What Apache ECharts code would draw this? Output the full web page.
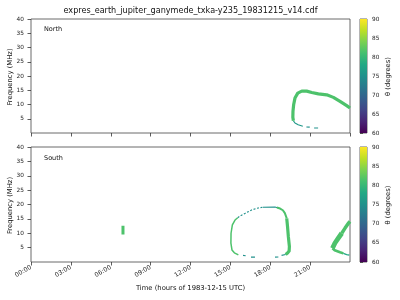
<!DOCTYPE html>
<html>
<head>
<meta charset="utf-8">
<script src="https://cdn.jsdelivr.net/npm/echarts@6/dist/echarts.min.js"></script>
<style>html,body{margin:0;padding:0;background:#fff;}#c{width:400px;height:300px;}</style>
</head>
<body>
<div id="c"></div>
<script>
// ---------- data ----------
const titleText = 'expres_earth_jupiter_ganymede_txka-y235_19831215_v14.cdf';
const xTickLabels = ['00:00','03:00','06:00','09:00','12:00','15:00','18:00','21:00'];
const yTickValues = [5,10,15,20,25,30,35,40];
const cbTickValues = [60,65,70,75,80,85,90];

// theta (degrees) of each feature
const greenTheta = 81.5;
const tealTheta = 76;

// North hemisphere (hour, MHz)
const northBand = [[19.74,4.3],[19.70,5.5],[19.71,7.6],[19.76,9.9],[19.86,12.25],[20.07,14.0],[20.37,14.7],[20.74,14.7],[21.12,14.2],[21.62,13.75],[22.25,13.4],[22.75,12.5],[23.25,11.1],[23.75,9.6],[24.0,8.75]];
const northTail = [[19.74,4.3],[19.86,3.5],[20.1,2.9],[20.45,2.35]];
const northTailDashes = [[[20.72,2.1],[20.97,2.05]],[[21.3,1.75],[21.6,1.75]]];

// South hemisphere (hour, MHz)
const southBlob = [[6.92,9.6],[6.92,12.6]];
const southLoopLeft = [[15.6,2.5],[15.3,3.2],[15.12,4.2],[15.04,6.6],[15.05,10.0],[15.15,12.9],[15.35,14.6],[15.55,15.4]];
const southLoopTopDashed = [[15.55,15.4],[15.73,16.0],[16.1,16.9],[16.6,18.1],[17.1,18.8],[17.45,19.05]];
const southLoopTopSolid = [[17.45,19.05],[18.36,19.1],[18.55,18.9]];
const southLoopRightUpper = [[18.5,18.95],[18.74,18.6],[18.95,18.0],[19.1,17.0],[19.24,15.2]];
const southLoopRightLower = [[19.24,15.2],[19.3,12.3],[19.36,8.9],[19.44,5.4],[19.42,3.8],[19.3,3.1],[19.16,2.6]];
const southLoopBottomDashes = [[[19.16,2.6],[18.85,2.3]],[[18.61,1.75],[18.36,1.7]],[[16.85,1.7],[16.55,1.7]],[[16.15,2.2],[15.95,2.3]]];
const southWedgeUpperLow = [[22.68,4.8],[22.87,6.6],[23.12,8.3],[23.38,10.0]];
const southWedgeUpperHigh = [[23.38,10.0],[23.63,11.8],[23.88,13.5],[24.0,14.1]];
const southWedgeLower = [[22.68,4.8],[22.85,4.1],[23.0,3.8],[23.25,3.4],[23.5,3.0]];
const southWedgeLowerEnd = [[23.5,3.0],[23.75,2.6],[23.95,2.35]];

// viridis colormap stops
const viridisStops = ['#440154','#482475','#414487','#355f8d','#2a788e','#21918c','#22a884','#44bf70','#7ad151','#bddf26','#fde725'];
const thetaMin = 60, thetaMax = 90;

// ---------- helpers ----------
function hexToRgb(h){return [parseInt(h.substr(1,2),16),parseInt(h.substr(3,2),16),parseInt(h.substr(5,2),16)];}
function viridis(theta){
  let t = (theta - thetaMin)/(thetaMax - thetaMin);
  t = Math.max(0, Math.min(1, t));
  const n = viridisStops.length - 1;
  const i = Math.min(n-1, Math.floor(t*n));
  const f = t*n - i;
  const a = hexToRgb(viridisStops[i]), b = hexToRgb(viridisStops[i+1]);
  const c = a.map((v,k)=>Math.round(v + (b[k]-v)*f));
  return 'rgb(' + c.join(',') + ')';
}
function seg(data, theta, width, idx, dashed){
  return {
    type:'line', xAxisIndex: idx, yAxisIndex: idx, data: data,
    symbol:'none', showSymbol:false, silent:true, animation:false, clip:true,
    lineStyle:{color: viridis(theta), width: width, type: dashed ? [2,1.6] : 'solid', cap:'butt', join:'round'}
  };
}

const font = 'DejaVu Sans';
const axisCol = '#333';

function mainX(idx, showLabels){
  return {
    type:'value', gridIndex: idx, min:0, max:24, interval:3,
    axisLine:{show:false},
    axisTick:{show:true, length:3.5, lineStyle:{color:axisCol, width:0.8}},
    splitLine:{show:false},
    axisLabel:{show: showLabels, rotate:30, fontSize:6.2, fontFamily:font, color:'#222', margin:5,
      showMaxLabel:false,
      formatter: v => xTickLabels[Math.round(v/3)] || ''}
  };
}
function mainY(idx){
  return {
    type:'value', gridIndex: idx, min:0, max:40, interval:5,
    axisLine:{show:false},
    axisTick:{show:true, length:3.5, lineStyle:{color:axisCol, width:0.8}},
    splitLine:{show:false},
    axisLabel:{fontSize:5.8, fontFamily:font, color:'#222', margin:7, showMinLabel:false,
      formatter: v => yTickValues.indexOf(v) >= 0 ? String(v) : ''}
  };
}
function cbX(idx){
  return {type:'value', gridIndex: idx, min:0, max:1, show:false};
}
function cbY(idx){
  return {
    type:'value', gridIndex: idx, min:thetaMin, max:thetaMax, interval:5, position:'right',
    axisLine:{show:false},
    axisTick:{show:true, length:3, lineStyle:{color:axisCol, width:0.8}},
    splitLine:{show:false},
    axisLabel:{fontSize:5.8, fontFamily:font, color:'#222', margin:5,
      formatter: v => cbTickValues.indexOf(v) >= 0 ? String(v) : ''}
  };
}
function colorbarSeries(idx){
  const stops = viridisStops.map((c,i)=>({offset: 1 - i/(viridisStops.length-1), color:c})).reverse();
  return {
    type:'custom', xAxisIndex: idx, yAxisIndex: idx, silent:true, animation:false,
    data:[[0, thetaMin]],
    renderItem: function(params, api){
      const p0 = api.coord([0, thetaMax]);
      const p1 = api.coord([1, thetaMin]);
      return {type:'rect', shape:{x:p0[0], y:p0[1], width:p1[0]-p0[0], height:p1[1]-p0[1]},
        style:{fill: new echarts.graphic.LinearGradient(0,0,0,1, stops)}};
    }
  };
}

const gridStyle = {show:true, borderColor:'#444', borderWidth:0.8, backgroundColor:'rgba(0,0,0,0)', containLabel:false};

const series = [
  colorbarSeries(2), colorbarSeries(3),
  seg(northTail, tealTheta, 1.2, 0),
  ...northTailDashes.map(d => seg(d, tealTheta-1, 1.1, 0)),
  seg(northBand, greenTheta, 3.2, 0),

  seg(southBlob, greenTheta, 3, 1),
  seg(southLoopTopDashed, tealTheta-1, 1.1, 1, true),
  seg(southLoopTopSolid, tealTheta-1, 1.1, 1),
  ...southLoopBottomDashes.map(d => seg(d, tealTheta-1, 1.1, 1)),
  seg(southLoopLeft, greenTheta, 1.5, 1),
  seg(southLoopRightUpper, greenTheta, 2, 1),
  seg(southLoopRightLower, greenTheta, 3.2, 1),
  seg(southWedgeLower, greenTheta, 2.6, 1),
  seg(southWedgeLowerEnd, tealTheta+2, 1.3, 1),
  seg(southWedgeUpperLow, greenTheta, 4.8, 1),
  seg(southWedgeUpperHigh, greenTheta, 3.5, 1)
];

function txt(text, x, y, size, align, rot){
  return {type:'text', x:x, y:y, rotation: rot||0, silent:true,
    style:{text:text, fontSize:size, fontFamily:font, fill:'#111',
      align:align, verticalAlign:'middle', textAlign:align, textVerticalAlign:'middle'}};
}

const option = {
  animation:false,
  backgroundColor:'#fff',
  grid:[
    Object.assign({left:31, top:19, width:319, height:114}, gridStyle),
    Object.assign({left:31, top:147, width:319, height:115}, gridStyle),
    Object.assign({left:360, top:19, width:7, height:114}, gridStyle),
    Object.assign({left:360, top:147, width:7, height:115}, gridStyle)
  ],
  xAxis:[mainX(0,false), mainX(1,true), cbX(2), cbX(3)],
  yAxis:[mainY(0), mainY(1), cbY(2), cbY(3)],
  series: series,
  graphic:[
    txt(titleText, 190.5, 11, 8.1, 'center'),
    txt('North', 44, 29.5, 6.5, 'left'),
    txt('South', 44, 158.5, 6.5, 'left'),
    txt('Frequency (MHz)', 10, 77, 6.8, 'center', Math.PI/2),
    txt('Frequency (MHz)', 10, 205.5, 6.8, 'center', Math.PI/2),
    txt('θ (degrees)', 388, 76.5, 6.8, 'center', Math.PI/2),
    txt('θ (degrees)', 388, 205, 6.8, 'center', Math.PI/2),
    txt('Time (hours of 1983-12-15 UTC)', 190.5, 288, 6.8, 'center')
  ]
};

const chart = echarts.init(document.getElementById('c'), null, {renderer:'canvas'});
chart.setOption(option);
</script>
</body>
</html>
